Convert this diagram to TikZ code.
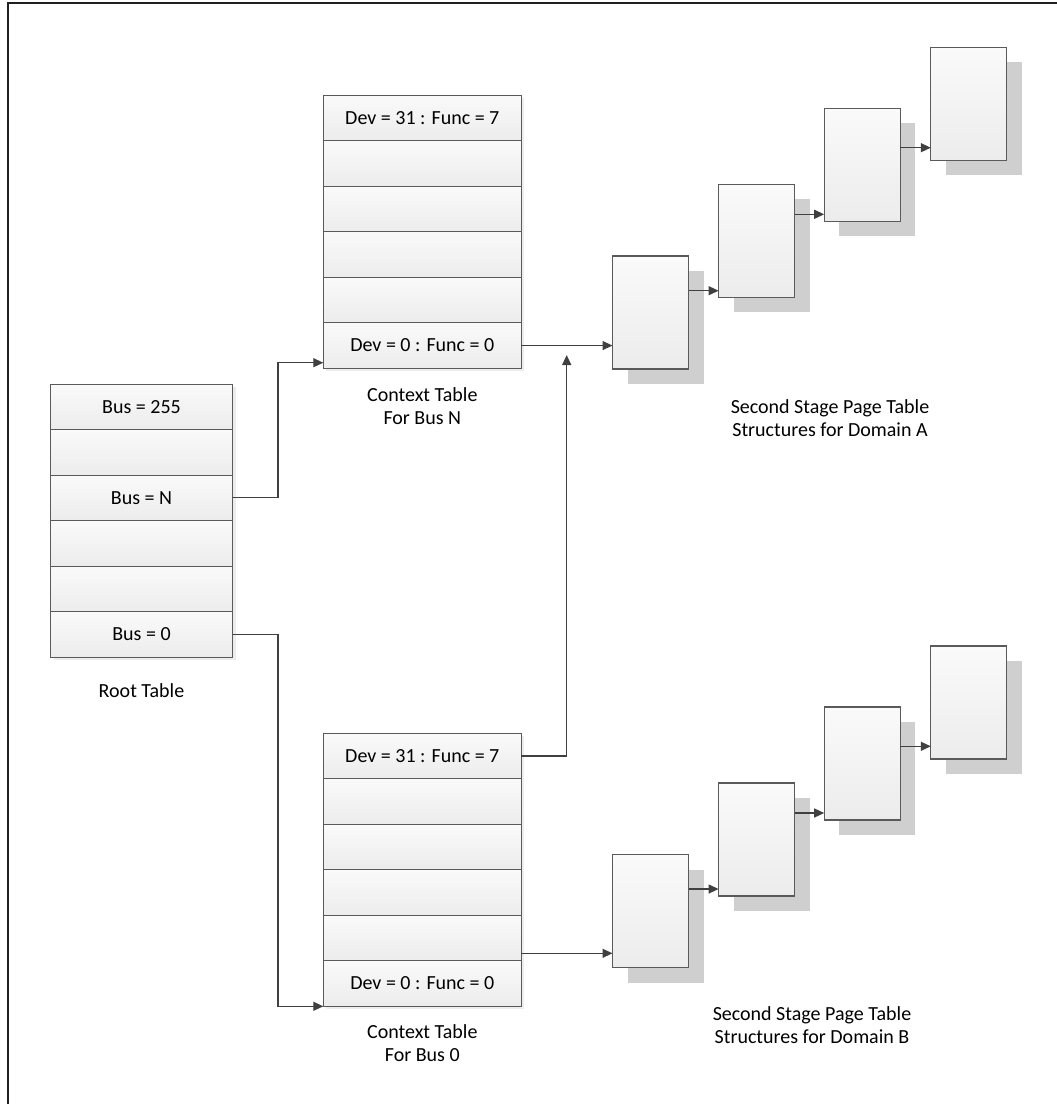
\documentclass[tikz,border=0pt]{standalone}
\usepackage{fontspec}
\setmainfont{Carlito}
\usetikzlibrary{arrows.meta,calc}
\definecolor{edgegray}{HTML}{5A5A5A}
\definecolor{linegray}{HTML}{404040}
\definecolor{shadowgray}{HTML}{CFCFCF}
\definecolor{celltop}{HTML}{FAFAFA}
\definecolor{cellbot}{HTML}{ECECEC}
\definecolor{tableshadow}{HTML}{EDEDED}
\definecolor{framegray}{HTML}{202020}
\begin{document}
\begin{tikzpicture}[x=1pt,y=-1pt,
  every node/.style={font=\fontsize{20}{23.5}\selectfont, inner sep=0pt, outer sep=0pt},
  cell/.style={draw=edgegray, line width=1pt, top color=celltop, bottom color=cellbot, minimum height=45.5pt},
  rootcell/.style={cell, minimum width=182pt},
  ctxcell/.style={cell, minimum width=198pt},
  pagebox/.style={draw=edgegray, line width=1.1pt, top color=celltop, bottom color=cellbot, minimum width=76pt, minimum height=113pt},
  pageshadow/.style={fill=shadowgray, minimum width=76pt, minimum height=113pt},
  link/.style={draw=linegray, line width=1.3pt},
  arrowlink/.style={link, -{Triangle[length=10pt,width=9pt]}},
  caption/.style={align=center}
]
\useasboundingbox (0,0) rectangle (1057,1104);
% frame
\draw[line width=2pt, framegray] (8,1104) -- (8,3) -- (1057,3);

% table shadows
\fill[tableshadow] (53.5,387) rectangle (235.5,660);
\fill[tableshadow] (326.3,98.3) rectangle (524.3,371.3);
\fill[tableshadow] (326.3,736.3) rectangle (524.3,1009.3);

% root table
\node[rootcell] (r1) at (141.5,406.75) {Bus = 255};
\node[rootcell] (r2) at (141.5,452.25) {};
\node[rootcell] (r3) at (141.5,497.75) {Bus = N};
\node[rootcell] (r4) at (141.5,543.25) {};
\node[rootcell] (r5) at (141.5,588.75) {};
\node[rootcell] (r6) at (141.5,634.25) {Bus = 0};
\node[caption] (rootlbl) at (141.5,691) {Root Table};

% context table for bus N
\node[ctxcell] (t1) at (422.3,118.05) {Dev = 31 : Func = 7};
\node[ctxcell] (t2) at (422.3,163.55) {};
\node[ctxcell] (t3) at (422.3,209.05) {};
\node[ctxcell] (t4) at (422.3,254.55) {};
\node[ctxcell] (t5) at (422.3,300.05) {};
\node[ctxcell] (t6) at (422.3,345.55) {Dev = 0 : Func = 0};
\node[caption] (ctxNlbl) at (422.3,406) {Context Table\\For Bus N};

% context table for bus 0
\node[ctxcell] (b1) at (422.3,756.05) {Dev = 31 : Func = 7};
\node[ctxcell] (b2) at (422.3,801.55) {};
\node[ctxcell] (b3) at (422.3,847.05) {};
\node[ctxcell] (b4) at (422.3,892.55) {};
\node[ctxcell] (b5) at (422.3,938.05) {};
\node[ctxcell] (b6) at (422.3,983.55) {Dev = 0 : Func = 0};
\node[caption] (ctx0lbl) at (422.3,1043) {Context Table\\For Bus 0};

% page tables domain A
\node[pageshadow] (sA1) at (665.5,327.5) {};
\node[pagebox] (A1) at (650.5,312.5) {};
\node[pageshadow] (sA2) at (771.6,255.8) {};
\node[pagebox] (A2) at (756.6,240.8) {};
\node[pageshadow] (sA3) at (877.2,179.8) {};
\node[pagebox] (A3) at (862.2,164.8) {};
\node[pageshadow] (sA4) at (983.8,118.8) {};
\node[pagebox] (A4) at (968.8,103.8) {};
\node[caption] (domA) at (830,418) {Second Stage Page Table\\Structures for Domain A};

% page tables domain B
\node[pageshadow] (sB1) at (665.5,926) {};
\node[pagebox] (B1) at (650.5,911) {};
\node[pageshadow] (sB2) at (771.6,854.5) {};
\node[pagebox] (B2) at (756.6,839.5) {};
\node[pageshadow] (sB3) at (877.2,778.5) {};
\node[pagebox] (B3) at (862.2,763.5) {};
\node[pageshadow] (sB4) at (983.8,717.5) {};
\node[pagebox] (B4) at (968.8,702.5) {};
\node[caption] (domB) at (812,1025) {Second Stage Page Table\\Structures for Domain B};

% connectors
\coordinate (upend) at (566.7,355);
\draw[arrowlink] (r3.east) -- (278,497.75) |- (t6.west |- 0,362.7);
\draw[arrowlink] (r6.east) -- (278,634.25) |- (b6.south west);
\draw[arrowlink] (b1.east) -| (upend);
\draw[arrowlink] (t6.east) -- (A1.west |- t6.east);
\draw[arrowlink] (b5.east |- 0,953.3) -- (B1.west |- 0,953.3);

\draw[arrowlink] (A1.east |- 0,290.7) -- (A2.west |- 0,290.7);
\draw[arrowlink] (A2.east |- 0,214.3) -- (A3.west |- 0,214.3);
\draw[arrowlink] (A3.east |- 0,147.7) -- (A4.west |- 0,147.7);
\draw[arrowlink] (B1.east |- 0,889) -- (B2.west |- 0,889);
\draw[arrowlink] (B2.east |- 0,813) -- (B3.west |- 0,813);
\draw[arrowlink] (B3.east |- 0,746.3) -- (B4.west |- 0,746.3);
\end{tikzpicture}
\end{document}
